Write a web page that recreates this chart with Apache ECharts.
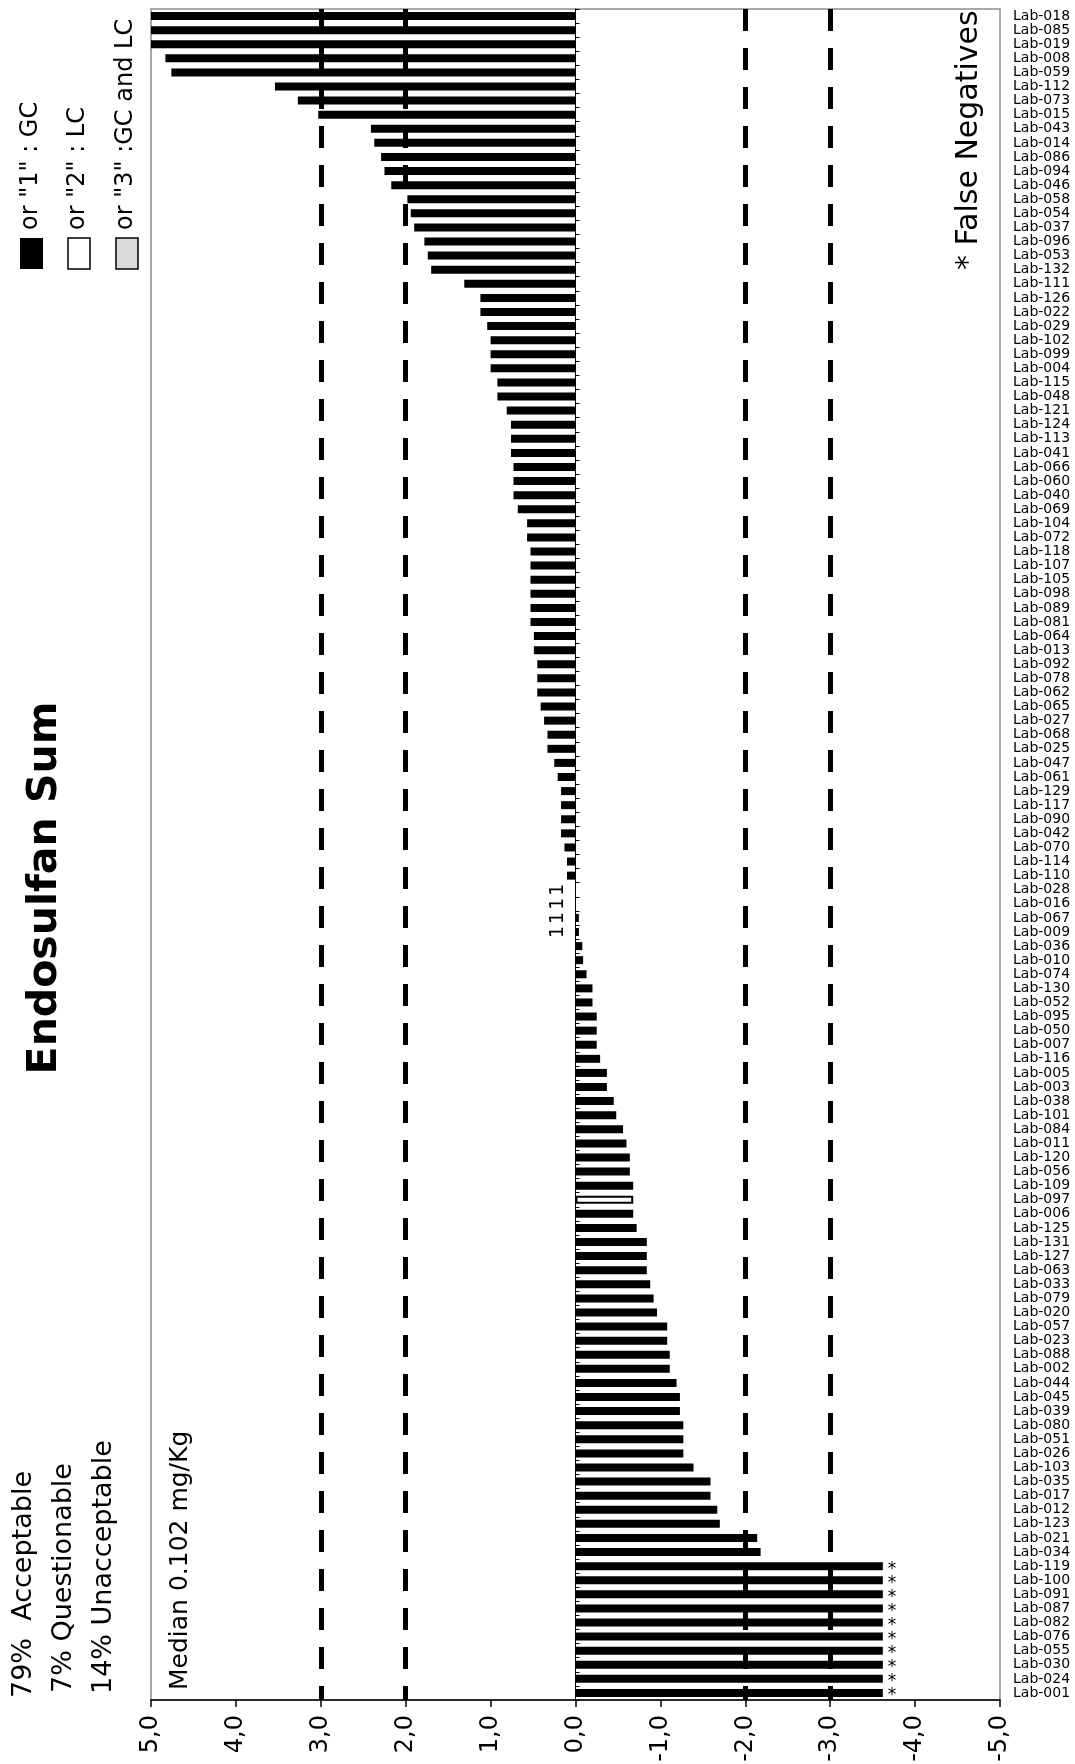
<!DOCTYPE html>
<html>
<head>
<meta charset="utf-8">
<title>Endosulfan Sum</title>
<script src="https://cdn.jsdelivr.net/npm/echarts@6/dist/echarts.min.js"></script>
<style>
  html, body { margin: 0; padding: 0; background: #fff; }
  #chart { width: 1075px; height: 1764px; }
</style>
</head>
<body>
<div id="chart"></div>
<script>
// labs, top to bottom as printed on the chart
const labs = [
  'Lab-018','Lab-085','Lab-019','Lab-008','Lab-059','Lab-112','Lab-073','Lab-015','Lab-043','Lab-014',
  'Lab-086','Lab-094','Lab-046','Lab-058','Lab-054','Lab-037','Lab-096','Lab-053','Lab-132','Lab-111',
  'Lab-126','Lab-022','Lab-029','Lab-102','Lab-099','Lab-004','Lab-115','Lab-048','Lab-121','Lab-124',
  'Lab-113','Lab-041','Lab-066','Lab-060','Lab-040','Lab-069','Lab-104','Lab-072','Lab-118','Lab-107',
  'Lab-105','Lab-098','Lab-089','Lab-081','Lab-064','Lab-013','Lab-092','Lab-078','Lab-062','Lab-065',
  'Lab-027','Lab-068','Lab-025','Lab-047','Lab-061','Lab-129','Lab-117','Lab-090','Lab-042','Lab-070',
  'Lab-114','Lab-110','Lab-028','Lab-016','Lab-067','Lab-009','Lab-036','Lab-010','Lab-074','Lab-130',
  'Lab-052','Lab-095','Lab-050','Lab-007','Lab-116','Lab-005','Lab-003','Lab-038','Lab-101','Lab-084',
  'Lab-011','Lab-120','Lab-056','Lab-109','Lab-097','Lab-006','Lab-125','Lab-131','Lab-127','Lab-063',
  'Lab-033','Lab-079','Lab-020','Lab-057','Lab-023','Lab-088','Lab-002','Lab-044','Lab-045','Lab-039',
  'Lab-080','Lab-051','Lab-026','Lab-103','Lab-035','Lab-017','Lab-012','Lab-123','Lab-021','Lab-034',
  'Lab-119','Lab-100','Lab-091','Lab-087','Lab-082','Lab-076','Lab-055','Lab-030','Lab-024','Lab-001'
];

// z-scores, same order as labs
const zScores = [
  5.0, 5.0, 5.0, 4.83, 4.76, 3.54, 3.27, 3.03, 2.41, 2.37,
  2.29, 2.25, 2.17, 1.98, 1.94, 1.90, 1.78, 1.74, 1.70, 1.31,
  1.12, 1.12, 1.04, 1.00, 1.00, 1.00, 0.92, 0.92, 0.81, 0.76,
  0.76, 0.76, 0.73, 0.73, 0.73, 0.68, 0.57, 0.57, 0.53, 0.53,
  0.53, 0.53, 0.53, 0.53, 0.49, 0.49, 0.45, 0.45, 0.45, 0.41,
  0.37, 0.33, 0.33, 0.25, 0.21, 0.17, 0.17, 0.17, 0.17, 0.13,
  0.10, 0.10, 0, 0, -0.04, -0.04, -0.08, -0.09, -0.13, -0.20,
  -0.20, -0.25, -0.25, -0.25, -0.29, -0.37, -0.37, -0.45, -0.48, -0.56,
  -0.60, -0.64, -0.64, -0.68, -0.68, -0.68, -0.72, -0.84, -0.84, -0.84,
  -0.88, -0.92, -0.96, -1.08, -1.08, -1.11, -1.11, -1.19, -1.23, -1.23,
  -1.27, -1.27, -1.27, -1.39, -1.59, -1.59, -1.67, -1.70, -2.14, -2.18,
  -3.62, -3.62, -3.62, -3.62, -3.62, -3.62, -3.62, -3.62, -3.62, -3.62
];

const lcLabs = ['Lab-097'];                                   // "2" : LC
const zeroLabelLabs = ['Lab-028', 'Lab-016', 'Lab-067', 'Lab-009'];  // "1" : GC
const falseNegatives = ['Lab-119','Lab-100','Lab-091','Lab-087','Lab-082',
                        'Lab-076','Lab-055','Lab-030','Lab-024','Lab-001'];
const limitLines = [3, 2, -2, -3];

const summaryLines = ['79%  Acceptable', '7% Questionable', '14% Unacceptable'];
const legendLines = ['or "1" : GC', 'or "2" : LC', 'or "3" :GC and LC'];
const medianText = 'Median 0.102 mg/Kg';
const noteText = '* False Negatives';
const titleText = 'Endosulfan Sum';

const FONT = 'DejaVu Sans';
const UP = Math.PI / 2;   // text reads bottom to top

const barData = labs.map((lab, i) => {
  const item = { value: zScores[i] };
  if (lcLabs.includes(lab)) {
    item.itemStyle = { color: '#fff', borderColor: '#000', borderWidth: 2 };
  }
  if (zeroLabelLabs.includes(lab)) {
    item.label = {
      show: true, formatter: '1', rotate: 90, position: [-8, 4],
      align: 'center', verticalAlign: 'bottom', fontSize: 19
    };
  }
  if (falseNegatives.includes(lab)) {
    item.label = {
      show: true, formatter: '*', position: 'right', distance: 5,
      fontSize: 17, offset: [0, 3]
    };
  }
  return item;
});

function upText(text, x, y, size, align, weight) {
  return {
    type: 'text', x: x, y: y, rotation: UP,
    style: {
      text: text, fontFamily: FONT, fontSize: size, fontWeight: weight || 'normal',
      fill: '#000', align: align || 'left', verticalAlign: 'middle'
    }
  };
}

const graphics = [
  upText(titleText, 45, 888, 41, 'center', 'bold'),
  upText(summaryLines[0], 24, 1698, 27),
  upText(summaryLines[1], 64, 1693, 27),
  upText(summaryLines[2], 104, 1694, 27),
  upText(medianText, 180, 1690, 25),
  upText(noteText, 969, 270, 30),
  { type: 'rect', shape: { x: 20, y: 238, width: 23, height: 31 }, style: { fill: '#000' } },
  { type: 'rect', shape: { x: 68, y: 238, width: 22, height: 31 }, style: { fill: '#fff', stroke: '#000', lineWidth: 1.5 } },
  { type: 'rect', shape: { x: 116, y: 238, width: 22, height: 31 }, style: { fill: '#d9d9d9', stroke: '#000', lineWidth: 1.5 } },
  upText(legendLines[0], 31, 230, 24),
  upText(legendLines[1], 78, 230, 24),
  upText(legendLines[2], 126, 230, 24)
];

const chart = echarts.init(document.getElementById('chart'));
chart.setOption({
  animation: false,
  backgroundColor: '#fff',
  textStyle: { fontFamily: FONT, color: '#000' },
  grid: {
    left: 151, right: 75, top: 9, bottom: 64,
    outerBoundsMode: 'none', containLabel: false,
    show: true, borderColor: '#8c8c8c', borderWidth: 1.5, backgroundColor: 'transparent'
  },
  xAxis: {
    type: 'value', inverse: true, min: -5, max: 5, interval: 1,
    axisLine: { show: true, onZero: false, lineStyle: { color: '#000', width: 1.5 } },
    axisTick: { show: true, length: 7, lineStyle: { color: '#000', width: 1.5 } },
    splitLine: { show: false },
    axisLabel: {
      rotate: 90, margin: 15, fontSize: 24, color: '#000', fontFamily: FONT,
      formatter: v => v.toFixed(1).replace('.', ',')
    }
  },
  yAxis: [
    {
      type: 'category', data: labs, inverse: true, position: 'right',
      axisLine: { show: false, onZero: false },
      axisTick: { show: false },
      axisLabel: { interval: 0, fontSize: 14, color: '#000', margin: 13, fontFamily: FONT }
    },
    {
      type: 'category', data: labs, inverse: true, position: 'right',
      axisLine: { show: true, onZero: true, lineStyle: { color: '#000', width: 1 } },
      axisTick: { show: true, interval: 0, length: 4, lineStyle: { color: '#000' } },
      axisLabel: { show: false }
    }
  ],
  graphic: graphics,
  series: [
    {
      type: 'bar', yAxisIndex: 0, barWidth: 8,
      itemStyle: { color: '#000' },
      label: { show: false, color: '#000', fontFamily: FONT },
      data: barData,
      markLine: {
        silent: true, symbol: 'none',
        label: { show: false },
        lineStyle: { color: '#000', width: 5, type: [22, 17] },
        data: limitLines.map(v => ({ xAxis: v }))
      }
    }
  ]
});
</script>
</body>
</html>
